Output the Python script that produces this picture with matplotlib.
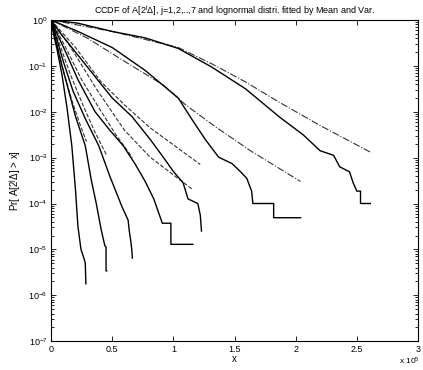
import matplotlib
matplotlib.use('Agg')
from matplotlib import pyplot as plt
from matplotlib.ticker import LogLocator, NullFormatter, FixedLocator, LogFormatterSciNotation
import numpy as np

plt.rcParams['font.family'] = ['Liberation Sans', 'DejaVu Sans']
plt.rcParams['mathtext.fontset'] = 'custom'
plt.rcParams['mathtext.rm'] = 'Liberation Sans'
plt.rcParams['mathtext.it'] = 'Liberation Sans'

# empirical CCDF, x in units of 1e5, y as log10 probability
x1 = [0, 0.02, 0.05, 0.09, 0.13, 0.17, 0.2, 0.22, 0.245, 0.27, 0.28, 0.285]
y1 = [0, -0.3, -0.65, -1.2, -1.9, -2.74, -3.7, -4.5, -5.0, -5.2, -5.3, -5.75]
x2 = [0, 0.03, 0.08, 0.14, 0.2, 0.28, 0.33, 0.37, 0.41, 0.44, 0.45, 0.45, 0.455]
y2 = [0, -0.35, -0.9, -1.5, -2.1, -2.74, -3.5, -4.0, -4.57, -4.92, -4.95, -5.47, -5.47]
x3 = [0, 0.04, 0.1, 0.18, 0.28, 0.39, 0.48, 0.58, 0.63, 0.64, 0.65, 0.66, 0.665]
y3 = [0, -0.35, -0.9, -1.55, -2.15, -2.74, -3.4, -4.07, -4.36, -4.6, -4.78, -5.0, -5.19]
x4 = [0, 0.05, 0.12, 0.22, 0.36, 0.48, 0.59, 0.69, 0.77, 0.84, 0.91, 0.98, 0.98, 1.16]
y4 = [0, -0.3, -0.7, -1.3, -2.0, -2.4, -2.74, -3.15, -3.52, -3.9, -4.43, -4.43, -4.89, -4.89]
x5 = [0, 0.08, 0.2, 0.35, 0.5, 0.66, 0.81, 0.92, 1.0, 1.08, 1.12, 1.2, 1.22, 1.23]
y5 = [0, -0.3, -0.7, -1.2, -1.7, -2.1, -2.6, -3.0, -3.3, -3.55, -3.9, -4.0, -4.25, -4.6]
x6 = [0, 0.22, 0.5, 0.77, 1.04, 1.16, 1.26, 1.37, 1.48, 1.55, 1.6, 1.64, 1.65, 1.82, 1.82, 2.04]
y6 = [0, -0.25, -0.6, -1.1, -1.7, -2.2, -2.6, -2.99, -3.13, -3.31, -3.45, -3.73, -4.0, -4.0, -4.31, -4.31]
x7 = [0, 0.22, 0.5, 0.77, 1.04, 1.31, 1.59, 1.87, 2.06, 2.2, 2.31, 2.36, 2.44, 2.47, 2.5, 2.53, 2.53, 2.61]
y7 = [0, -0.07, -0.25, -0.39, -0.62, -1.02, -1.5, -2.12, -2.5, -2.85, -2.95, -3.2, -3.31, -3.55, -3.73, -3.73, -4.0, -4.0]

# fitted lognormal CCDF
fx1 = [0, 0.05, 0.1, 0.17, 0.24, 0.29]
fy1 = [0, -0.55, -1.1, -1.75, -2.3, -2.65]
fx2 = [0, 0.08, 0.16, 0.26, 0.36, 0.455]
fy2 = [0, -0.6, -1.2, -1.85, -2.45, -2.95]
fx3 = [0, 0.12, 0.25, 0.4, 0.53, 0.665]
fy3 = [0, -0.6, -1.3, -1.95, -2.5, -3.0]
fx4 = [0, 0.15, 0.37, 0.6, 0.81, 1.16]
fy4 = [0, -0.55, -1.5, -2.4, -2.99, -3.7]
fx5 = [0, 0.2, 0.41, 0.6, 0.81, 1.22]
fy5 = [0, -0.6, -1.35, -1.85, -2.35, -3.15]
fx6 = [0, 0.3, 0.6, 0.92, 1.1, 1.34, 1.63, 2.04]
fy6 = [0, -0.4, -0.9, -1.42, -1.85, -2.32, -2.85, -3.52]
fx7 = [0, 0.5, 1.04, 1.31, 1.59, 1.87, 2.2, 2.61]
fy7 = [0, -0.25, -0.6, -0.95, -1.35, -1.8, -2.3, -2.88]

xticks = [0, 0.5, 1, 1.5, 2, 2.5, 3]
xticklabels = ['0', '0.5', '1', '1.5', '2', '2.5', '3']
yticks = [1e-7, 1e-6, 1e-5, 1e-4, 1e-3, 1e-2, 1e-1, 1e0]

emp = [(x1, y1), (x2, y2), (x3, y3), (x4, y4), (x5, y5), (x6, y6), (x7, y7)]
fits = [(fx1, fy1), (fx2, fy2), (fx3, fy3), (fx4, fy4), (fx5, fy5), (fx6, fy6), (fx7, fy7)]
fit_styles = ['--', '--', '--', '--', '--', '-.', '-.']

fig = plt.figure(figsize=(4.23, 3.70), dpi=100)
ax = fig.add_axes([0.1206, 0.078, 0.8676, 0.868])

for (fx, fy), ls in zip(fits, fit_styles):
    ax.semilogy(fx, 10.0 ** np.array(fy), color='#333333', linestyle=ls, linewidth=0.8)
for ex, ey in emp:
    ax.semilogy(ex, 10.0 ** np.array(ey), color='black', linewidth=1.0)

ax.set_xlim(0, 3)
ax.set_ylim(1e-7, 1)
ax.xaxis.set_major_locator(FixedLocator(xticks))
ax.set_xticklabels(xticklabels)
ax.yaxis.set_major_locator(FixedLocator(yticks))
ax.yaxis.set_major_formatter(LogFormatterSciNotation())
ax.yaxis.set_minor_locator(FixedLocator([m * d for d in yticks[:-1] for m in range(2, 10)]))
ax.yaxis.set_minor_formatter(NullFormatter())
ax.tick_params(which='both', direction='in', top=True, right=True, labelsize=6.5, width=0.6)
ax.tick_params(which='major', length=3.5, pad=2.5)
ax.tick_params(which='minor', length=2)
for s in ax.spines.values():
    s.set_linewidth(0.8)

ax.set_title(r'CCDF of A[2$^j\Delta$], j=1,2,..,7 and lognormal distri. fitted by Mean and Var.',
             fontsize=6.5, pad=4)
ax.set_xlabel('x', fontsize=7, labelpad=0)
ax.set_ylabel(r'Pr[ A[2$^j\Delta$] > x]', fontsize=7, labelpad=4)
ax.text(1.005, -0.045, r'x 10$^5$', transform=ax.transAxes, fontsize=6, ha='right', va='top')

fig.savefig('out.png', dpi=100)
